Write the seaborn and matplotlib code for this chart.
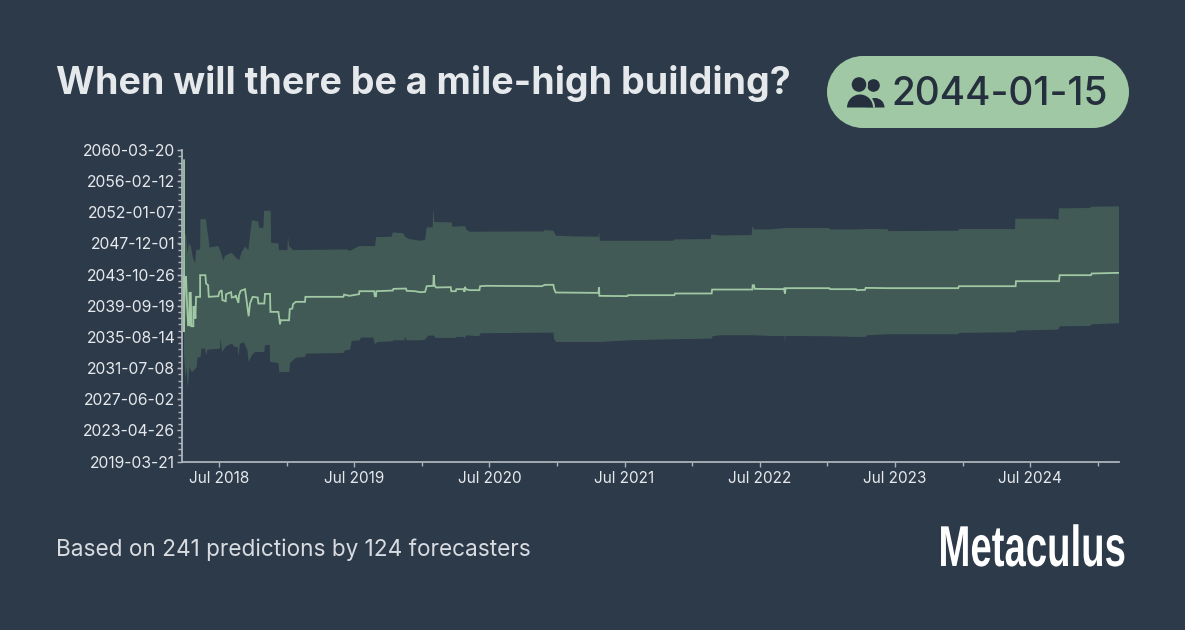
import matplotlib
matplotlib.use("Agg")
import matplotlib.pyplot as plt
from matplotlib.patches import Circle, Rectangle, Wedge
from matplotlib.patheffects import AbstractPathEffect
from matplotlib.ticker import AutoMinorLocator
from matplotlib.transforms import Affine2D
import numpy as np
import pandas as pd
import seaborn as sns

title = "When will there be a mile-high building?"
badge_text = "2044-01-15"
footer = "Based on 241 predictions by 124 forecasters"
brand = "Metaculus"

y_tick_dates = ["2019-03-21", "2023-04-26", "2027-06-02", "2031-07-08", "2035-08-14", "2039-09-19",
                "2043-10-26", "2047-12-01", "2052-01-07", "2056-02-12", "2060-03-20"]
x_tick_years = [2018.5, 2019.5, 2020.5, 2021.5, 2022.5, 2023.5, 2024.5]
x_tick_labels = ["Jul 2018", "Jul 2019", "Jul 2020", "Jul 2021", "Jul 2022", "Jul 2023", "Jul 2024"]

# Time is in decimal years on both axes
median_t = [2018.241, 2018.241, 2018.246, 2018.256, 2018.261, 2018.271, 2018.281, 2018.281, 2018.291, 2018.295,
            2018.310, 2018.310, 2018.320, 2018.325, 2018.330, 2018.360, 2018.360, 2018.399, 2018.404, 2018.419,
            2018.424, 2018.495, 2018.503, 2018.520, 2018.525, 2018.549, 2018.552, 2018.589, 2018.594, 2018.618,
            2018.623, 2018.643, 2018.648, 2018.660, 2018.692, 2018.700, 2018.719, 2018.729, 2018.749, 2018.786,
            2018.791, 2018.835, 2018.840, 2018.877, 2018.880, 2018.939, 2018.951, 2018.956, 2019.018, 2019.023,
            2019.042, 2019.047, 2019.067, 2019.136, 2019.139, 2019.420, 2019.425, 2019.464, 2019.489, 2019.536,
            2019.538, 2019.647, 2019.652, 2019.661, 2019.664, 2019.785, 2019.790, 2019.883, 2019.888, 2019.950,
            2019.987, 2020.024, 2020.036, 2020.085, 2020.088, 2020.093, 2020.105, 2020.214, 2020.218, 2020.251,
            2020.255, 2020.312, 2020.315, 2020.320, 2020.325, 2020.352, 2020.426, 2020.431, 2020.480, 2020.887,
            2020.911, 2020.973, 2020.978, 2020.990, 2021.306, 2021.311, 2021.313, 2021.520, 2021.525, 2021.868,
            2021.873, 2022.144, 2022.147, 2022.445, 2022.447, 2022.457, 2022.462, 2022.669, 2022.679, 2022.686,
            2022.691, 2023.014, 2023.019, 2023.212, 2023.216, 2023.278, 2023.283, 2023.443, 2023.968, 2023.973,
            2024.392, 2024.395, 2024.713, 2024.718, 2024.950, 2024.955, 2025.157]
median_v = [2058.90, 2036.27, 2043.52, 2043.52, 2040.89, 2037.15, 2037.15, 2041.41, 2041.41, 2037.02,
            2037.02, 2039.57, 2039.57, 2038.03, 2040.89, 2040.89, 2043.74, 2043.74, 2042.64, 2042.42,
            2040.89, 2040.97, 2041.54, 2041.76, 2040.45, 2040.31, 2041.24, 2041.50, 2040.80, 2040.89,
            2041.10, 2040.09, 2041.10, 2041.68, 2041.90, 2040.89, 2038.34, 2040.01, 2040.89, 2040.80,
            2040.01, 2040.01, 2041.28, 2041.28, 2038.91, 2038.91, 2037.28, 2037.81, 2037.81, 2039.26,
            2039.35, 2039.92, 2040.23, 2040.23, 2040.89, 2040.89, 2041.19, 2041.02, 2041.10, 2041.24,
            2041.63, 2041.63, 2040.97, 2040.97, 2041.63, 2041.72, 2041.94, 2041.98, 2041.68, 2041.63,
            2041.50, 2041.54, 2042.29, 2042.34, 2043.74, 2042.42, 2042.12, 2042.16, 2041.63, 2041.63,
            2041.90, 2041.90, 2041.54, 2042.21, 2041.90, 2041.77, 2041.77, 2042.29, 2042.34, 2042.29,
            2042.47, 2042.47, 2041.99, 2041.46, 2041.41, 2042.12, 2041.02, 2040.98, 2041.11, 2041.11,
            2041.33, 2041.33, 2041.85, 2041.85, 2042.42, 2042.42, 2041.94, 2041.90, 2041.99, 2041.33,
            2042.03, 2042.03, 2041.90, 2041.90, 2041.77, 2041.81, 2042.07, 2042.03, 2042.03, 2042.29,
            2042.29, 2042.95, 2042.95, 2043.74, 2043.74, 2043.96, 2044.05]

upper_t = [2018.241, 2018.246, 2018.256, 2018.266, 2018.276, 2018.291, 2018.305, 2018.323, 2018.330, 2018.360,
           2018.362, 2018.404, 2018.409, 2018.421, 2018.429, 2018.495, 2018.520, 2018.532, 2018.544, 2018.594,
           2018.618, 2018.650, 2018.668, 2018.692, 2018.717, 2018.729, 2018.744, 2018.791, 2018.798, 2018.828,
           2018.833, 2018.882, 2018.885, 2018.939, 2018.944, 2019.006, 2019.010, 2019.018, 2019.050, 2019.444,
           2019.469, 2019.536, 2019.654, 2019.661, 2019.777, 2019.785, 2019.864, 2019.876, 2019.900, 2019.987,
           2020.024, 2020.036, 2020.080, 2020.085, 2020.093, 2020.221, 2020.226, 2020.320, 2020.332, 2020.356,
           2020.899, 2020.911, 2020.973, 2020.993, 2021.133, 2021.306, 2021.311, 2021.318, 2021.860, 2021.868,
           2022.136, 2022.141, 2022.205, 2022.440, 2022.445, 2022.457, 2022.575, 2022.686, 2023.014, 2023.019,
           2023.212, 2023.278, 2023.443, 2023.451, 2023.968, 2023.973, 2024.388, 2024.390, 2024.671, 2024.708,
           2024.713, 2024.942, 2024.950, 2025.157]
upper_v = [2059.43, 2049.24, 2049.02, 2046.60, 2047.92, 2047.57, 2046.16, 2045.28, 2047.04, 2047.13,
           2051.12, 2051.12, 2050.11, 2048.80, 2047.39, 2047.57, 2046.38, 2045.63, 2046.29, 2046.69,
           2046.16, 2045.72, 2046.82, 2047.48, 2047.04, 2049.02, 2050.99, 2050.77, 2049.98, 2049.98,
           2052.22, 2052.22, 2048.00, 2047.92, 2047.04, 2047.04, 2048.88, 2047.57, 2047.04, 2047.13,
           2046.95, 2047.57, 2047.57, 2048.75, 2048.80, 2049.37, 2049.24, 2048.80, 2048.53, 2048.27,
           2048.36, 2050.03, 2050.03, 2052.53, 2050.73, 2050.69, 2050.12, 2050.20, 2049.68, 2049.46,
           2049.50, 2049.68, 2049.59, 2048.93, 2048.84, 2048.80, 2049.41, 2048.27, 2048.27, 2048.45,
           2048.49, 2049.11, 2048.97, 2049.02, 2050.20, 2049.76, 2049.76, 2049.94, 2049.94, 2049.76,
           2049.76, 2049.81, 2049.81, 2049.54, 2049.59, 2049.81, 2049.81, 2051.17, 2051.17, 2051.04,
           2052.53, 2052.58, 2052.75, 2052.80]

lower_t = [2018.241, 2018.251, 2018.261, 2018.268, 2018.281, 2018.298, 2018.315, 2018.335, 2018.340, 2018.364,
           2018.369, 2018.397, 2018.404, 2018.414, 2018.507, 2018.512, 2018.522, 2018.552, 2018.594, 2018.618,
           2018.638, 2018.643, 2018.655, 2018.685, 2018.710, 2018.719, 2018.742, 2018.766, 2018.835, 2018.840,
           2018.875, 2018.877, 2018.939, 2018.946, 2019.020, 2019.025, 2019.070, 2019.136, 2019.144, 2019.420,
           2019.432, 2019.469, 2019.481, 2019.543, 2019.548, 2019.642, 2019.652, 2019.671, 2019.785, 2019.794,
           2019.871, 2019.878, 2019.888, 2019.987, 2020.024, 2020.048, 2020.090, 2020.100, 2020.246, 2020.258,
           2020.312, 2020.317, 2020.327, 2020.426, 2020.435, 2020.973, 2020.978, 2020.993, 2021.318, 2021.535,
           2021.860, 2022.144, 2022.151, 2022.205, 2022.452, 2022.575, 2022.684, 2022.686, 2022.691, 2023.019,
           2023.216, 2023.283, 2023.290, 2023.443, 2023.968, 2023.976, 2024.395, 2024.400, 2024.708, 2024.720,
           2024.947, 2024.955, 2025.157]
lower_v = [2033.41, 2030.12, 2031.66, 2028.80, 2031.66, 2031.00, 2031.22, 2031.66, 2032.89, 2032.97,
           2034.07, 2034.07, 2033.19, 2033.94, 2034.07, 2035.39, 2033.63, 2034.38, 2034.73, 2034.29,
           2034.29, 2033.06, 2034.73, 2034.91, 2033.85, 2032.32, 2033.19, 2033.63, 2033.63, 2034.51,
           2034.56, 2032.32, 2032.18, 2031.00, 2031.00, 2032.18, 2032.89, 2032.97, 2033.41, 2033.50,
           2033.85, 2033.94, 2035.08, 2035.17, 2035.52, 2035.52, 2034.64, 2034.95, 2035.04, 2035.17,
           2035.17, 2035.61, 2035.17, 2035.17, 2035.26, 2035.79, 2035.79, 2035.48, 2035.48, 2035.61,
           2035.61, 2035.31, 2035.83, 2035.70, 2036.10, 2036.18, 2035.39, 2034.95, 2034.95, 2035.17,
           2035.31, 2035.39, 2035.70, 2035.83, 2035.83, 2035.74, 2035.74, 2034.73, 2035.74, 2035.70,
           2035.61, 2035.61, 2035.83, 2035.96, 2035.96, 2036.14, 2036.23, 2036.45, 2036.58, 2037.02,
           2037.06, 2037.28, 2037.42]

BG = "#2d3a4a"
GREEN = "#a0c8a4"
BAND = "#425a55"
DARK = "#252f3d"
TEXT = "#e6e9ec"
FONT = "Inter"


class Squeeze(AbstractPathEffect):
    """Narrow a text's glyphs horizontally about a fixed pixel x."""
    def __init__(self, x0, sx):
        super().__init__()
        self.x0, self.sx = x0, sx

    def draw_path(self, renderer, gc, tpath, affine, rgbFace=None):
        a = affine + Affine2D().translate(-self.x0, 0).scale(self.sx, 1).translate(self.x0, 0)
        renderer.draw_path(gc, tpath, a, rgbFace)


def to_year(s):
    d = pd.Timestamp(s)
    return d.year + (d.dayofyear - 1) / 365.25


sns.set_theme(style="dark")
plt.rcParams["font.family"] = [FONT, "DejaVu Sans"]

W, H = 1185, 630
fig = plt.figure(figsize=(W / 100, H / 100), dpi=100, facecolor=BG)

# Page layer in pixel units
page = fig.add_axes([0, 0, 1, 1], facecolor=BG)
page.set_xlim(0, W)
page.set_ylim(H, 0)
page.axis("off")

page.text(56.5, 83, title, fontsize=27.05, fontweight="bold", color=TEXT, va="center", ha="left")
page.text(56.5, 549.5, footer, fontsize=16.25, color="#d8dce0", va="center", ha="left")

# Pill badge
page.add_patch(Rectangle((863, 56), 230, 72, fc=GREEN, ec="none"))
page.add_patch(Circle((863, 92), 36, fc=GREEN, ec="none"))
page.add_patch(Circle((1093, 92), 36, fc=GREEN, ec="none"))
page.text(891.5, 94.5, badge_text, fontsize=27.9, fontweight="medium", color=DARK, va="center", ha="left")

# Forecasters icon
page.add_patch(Wedge((875, 107.5), 9.5, 180, 360, fc=DARK, ec="none"))
page.add_patch(Circle((873.5, 85.5), 6.3, fc=DARK, ec="none"))
page.add_patch(Wedge((860, 107.5), 15, 180, 360, fc=GREEN, ec="none"))
page.add_patch(Circle((859, 84.5), 9, fc=GREEN, ec="none"))
page.add_patch(Wedge((860, 107.5), 13, 180, 360, fc=DARK, ec="none"))
page.add_patch(Circle((859, 84.5), 7.3, fc=DARK, ec="none"))

logo = page.text(1126, 566, brand, fontsize=41.5, fontweight="bold", family="Liberation Sans",
                 color="white", va="baseline", ha="right")
logo.set_path_effects([Squeeze(1126, 0.665)])

# Chart
ax = fig.add_axes([182 / W, 1 - 461.5 / H, (1119 - 182) / W, (461.5 - 150) / H], facecolor="none")
ax.fill(list(upper_t) + list(lower_t)[::-1], list(upper_v) + list(lower_v)[::-1], color=BAND, lw=0, zorder=1)
med = pd.DataFrame({"t": median_t, "v": median_v})
sns.lineplot(data=med, x="t", y="v", sort=False, estimator=None, color=GREEN, lw=1.3, ax=ax, zorder=2,
             solid_joinstyle="miter")

ax.set_xlim(2018.226, 2025.157)
ax.set_ylim(to_year(y_tick_dates[0]), to_year(y_tick_dates[-1]))
ax.set_xlabel("")
ax.set_ylabel("")
ax.set_xticks(x_tick_years, x_tick_labels)
ax.set_yticks([to_year(s) for s in y_tick_dates], y_tick_dates)
ax.xaxis.set_minor_locator(AutoMinorLocator(2))
ax.yaxis.set_minor_locator(AutoMinorLocator(5))
ax.grid(False)
for s in ("top", "right"):
    ax.spines[s].set_visible(False)
for s in ("left", "bottom"):
    ax.spines[s].set_color("#aeb3ba")
    ax.spines[s].set_linewidth(1.3)
ax.tick_params(axis="both", which="major", length=3.6, width=1, color="#aeb3ba", labelcolor=TEXT,
               pad=1.2, bottom=True, left=True)
ax.tick_params(axis="both", which="minor", length=2.6, width=1, color="#aeb3ba", bottom=True, left=True)
ax.tick_params(axis="y", which="major", labelsize=11.3)
ax.tick_params(axis="x", which="major", labelsize=11.0, pad=3)

fig.savefig("out.png", dpi=100, facecolor=BG)
